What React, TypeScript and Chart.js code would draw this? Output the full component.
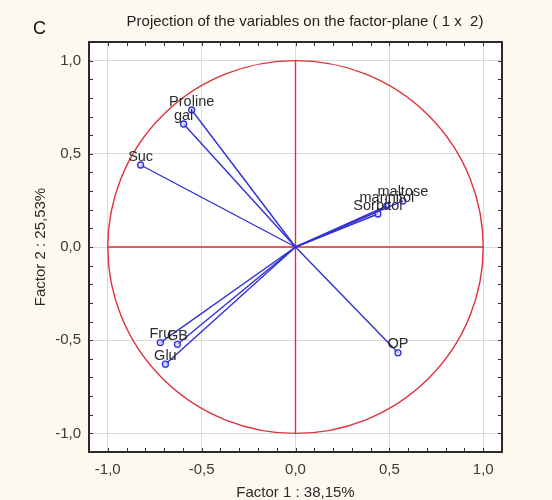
import React, { useEffect, useRef } from "react";
import { Chart, registerables } from "chart.js";

Chart.register(...registerables);

const variables = ["Proline", "gal", "Suc", "maltose", "mannitol", "Sorbitol", "OP", "Fru", "GB", "Glu"];
const factor1 = [-0.553, -0.596, -0.825, 0.572, 0.487, 0.439, 0.546, -0.72, -0.629, -0.693];
const factor2 = [0.735, 0.66, 0.44, 0.247, 0.22, 0.177, -0.568, -0.513, -0.522, -0.629];

const chartTitle = "Projection of the variables on the factor-plane ( 1 x  2)";
const panelLabel = "C";
const xTitle = "Factor 1 : 38,15%";
const yTitle = "Factor 2 : 25,53%";
const axisMin = -1.1;
const axisMax = 1.1;

const FONT = "'Liberation Sans', Arial, sans-serif";
const BLUE = "#3030d4";
const RED = "#e0303c";
const CREAM = "#fdf9ef";

const isHalf = (v: number) => Math.abs(v * 2 - Math.round(v * 2)) < 1e-6;
const fmt = (v: number) => {
  const r = Math.round(v * 10) / 10;
  return (r === 0 ? 0 : r).toFixed(1).replace(".", ",");
};

const decorPlugin = {
  id: "decor",
  beforeDraw(chart: any) {
    const { ctx, chartArea } = chart;
    ctx.save();
    ctx.fillStyle = CREAM;
    ctx.fillRect(0, 0, chart.width, chart.height);
    ctx.fillStyle = "#ffffff";
    ctx.fillRect(chartArea.left, chartArea.top, chartArea.right - chartArea.left, chartArea.bottom - chartArea.top);
    ctx.fillStyle = "#222";
    ctx.font = `15px ${FONT}`;
    ctx.textAlign = "center";
    ctx.textBaseline = "middle";
    ctx.fillText(chartTitle, 305, 22);
    ctx.font = `18px ${FONT}`;
    ctx.textAlign = "left";
    ctx.fillStyle = "#111";
    ctx.fillText(panelLabel, 33, 29);
    ctx.restore();
  },
  beforeDatasetsDraw(chart: any) {
    const { ctx } = chart;
    const xs = chart.scales.x;
    const ys = chart.scales.y;
    const cx = xs.getPixelForValue(0);
    const cy = ys.getPixelForValue(0);
    const rx = xs.getPixelForValue(1) - cx;
    const ry = cy - ys.getPixelForValue(1);
    ctx.save();
    ctx.strokeStyle = RED;
    ctx.lineWidth = 1.4;
    ctx.beginPath();
    ctx.ellipse(cx, cy, rx, ry, 0, 0, Math.PI * 2);
    ctx.stroke();
    ctx.beginPath();
    ctx.moveTo(xs.getPixelForValue(-1), cy);
    ctx.lineTo(xs.getPixelForValue(1), cy);
    ctx.moveTo(cx, ys.getPixelForValue(1));
    ctx.lineTo(cx, ys.getPixelForValue(-1));
    ctx.stroke();
    ctx.restore();
  },
  afterDatasetsDraw(chart: any) {
    const { ctx } = chart;
    const xs = chart.scales.x;
    const ys = chart.scales.y;
    ctx.save();
    ctx.fillStyle = "#2a2a2a";
    ctx.font = `14.5px ${FONT}`;
    ctx.textAlign = "center";
    ctx.textBaseline = "middle";
    variables.forEach((name, i) => {
      const px = xs.getPixelForValue(factor1[i]);
      const py = ys.getPixelForValue(factor2[i]);
      ctx.fillText(name, px, py - 8.5);
    });
    ctx.restore();
  },
  afterDraw(chart: any) {
    const { ctx, chartArea } = chart;
    const xs = chart.scales.x;
    const ys = chart.scales.y;
    ctx.save();
    ctx.strokeStyle = "#333";
    ctx.lineWidth = 1;
    ctx.beginPath();
    xs.ticks.forEach((t: any) => {
      const p = Math.round(xs.getPixelForValue(t.value)) + 0.5;
      ctx.moveTo(p, chartArea.bottom);
      ctx.lineTo(p, chartArea.bottom - 4);
      ctx.moveTo(p, chartArea.top);
      ctx.lineTo(p, chartArea.top + 4);
    });
    ys.ticks.forEach((t: any) => {
      const p = Math.round(ys.getPixelForValue(t.value)) + 0.5;
      ctx.moveTo(chartArea.left, p);
      ctx.lineTo(chartArea.left + 4, p);
      ctx.moveTo(chartArea.right, p);
      ctx.lineTo(chartArea.right - 4, p);
    });
    ctx.stroke();
    ctx.lineWidth = 2;
    ctx.strokeStyle = "#2a2a2a";
    ctx.strokeRect(chartArea.left, chartArea.top, chartArea.right - chartArea.left, chartArea.bottom - chartArea.top);
    ctx.restore();
  },
};

export default function App() {
  const ref = useRef<HTMLCanvasElement | null>(null);
  useEffect(() => {
    if (!ref.current) return;
    const datasets = variables.map((name, i) => ({
      label: name,
      data: [
        { x: 0, y: 0 },
        { x: factor1[i], y: factor2[i] },
      ],
      showLine: true,
      borderColor: BLUE,
      borderWidth: 1.4,
      pointRadius: [0, 3],
      pointBorderColor: BLUE,
      pointBorderWidth: 1.3,
      pointBackgroundColor: "rgba(210,215,255,0.7)",
    }));
    const gridColor = (c: any) => (c.tick && isHalf(c.tick.value) ? "#dadada" : "rgba(0,0,0,0)");
    const chart = new Chart(ref.current, {
      type: "scatter",
      data: { datasets },
      plugins: [decorPlugin],
      options: {
        animation: false,
        responsive: false,
        layout: { padding: { left: 26, right: 50, top: 42, bottom: 0 } },
        plugins: { legend: { display: false }, tooltip: { enabled: false }, title: { display: false } },
        scales: {
          x: {
            type: "linear",
            min: axisMin,
            max: axisMax,
            afterFit: (s: any) => {
              s.height = 48;
            },
            border: { display: false },
            grid: { color: gridColor, drawTicks: false, lineWidth: 1 },
            ticks: {
              stepSize: 0.1,
              autoSkip: false,
              maxRotation: 0,
              padding: 9,
              color: "#3a3a3a",
              font: { family: FONT, size: 15 },
              callback: (v: any) => (isHalf(Number(v)) ? fmt(Number(v)) : ""),
            },
            title: {
              display: true,
              text: xTitle,
              color: "#2a2a2a",
              font: { family: FONT, size: 15 },
              padding: { top: 0, bottom: -2 },
            },
          },
          y: {
            type: "linear",
            min: axisMin,
            max: axisMax,
            afterFit: (s: any) => {
              s.width = 63;
            },
            border: { display: false },
            grid: { color: gridColor, drawTicks: false, lineWidth: 1 },
            ticks: {
              stepSize: 0.1,
              autoSkip: false,
              padding: 8,
              color: "#3a3a3a",
              font: { family: FONT, size: 15 },
              callback: (v: any) => (isHalf(Number(v)) ? fmt(Number(v)) : ""),
            },
            title: {
              display: true,
              text: yTitle,
              color: "#2a2a2a",
              font: { family: FONT, size: 15 },
              padding: { top: 6, bottom: 0 },
            },
          },
        },
      },
    });
    return () => chart.destroy();
  }, []);
  return (
    <div style={{ position: "absolute", left: 0, top: 0, width: 552, height: 500 }}>
      <canvas ref={ref} width={552} height={500} />
    </div>
  );
}
